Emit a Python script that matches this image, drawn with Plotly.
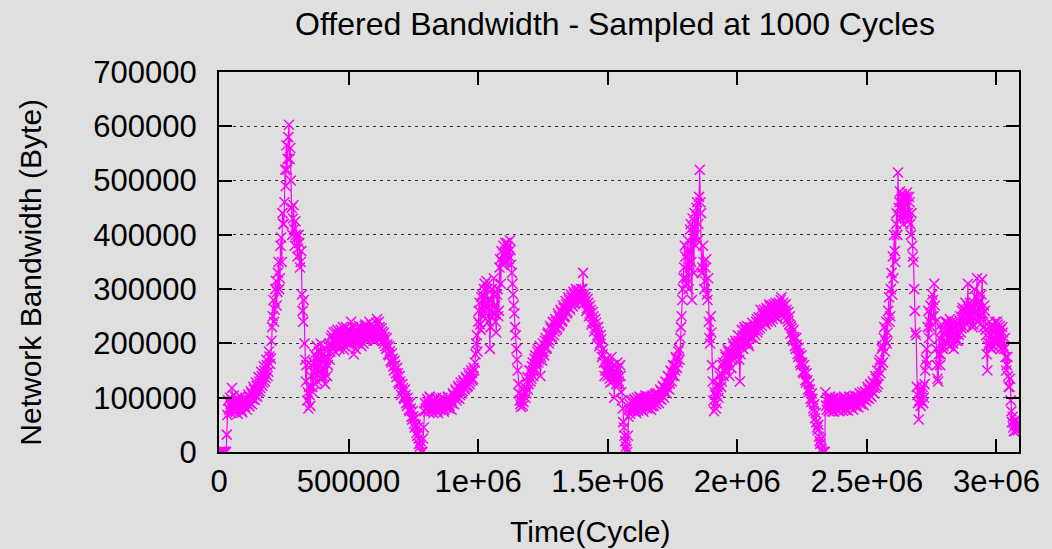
import plotly.graph_objects as go

# Sampling step (cycles) of the values
SAMPLE_STEP = 5000

# Offered bandwidth in kilobytes.
# "a" rows: samples at k*5000 cycles; "b" rows: samples at k*5000 + 2500 cycles.
# One row per 100000 cycles.
a0 = [0, 0, 0, 0, 0, 0, 32, 95, 78, 88, 118, 82, 92, 74, 86, 97, 79, 90, 73, 84]
b0 = [0, 0, 0, 0, 0, 0, 68, 80, 100, 72, 95, 104, 76, 98, 70, 90, 102, 76, 96, 88]
a1 = [84, 96, 88, 102, 90, 108, 97, 115, 104, 122, 110, 130, 118, 140, 128, 150, 136, 160, 148, 176]
b1 = [100, 78, 106, 84, 112, 88, 120, 96, 128, 102, 138, 112, 148, 122, 158, 130, 170, 140, 185, 162]
a2 = [172, 230, 280, 262, 315, 295, 350, 320, 395, 440, 420, 520, 565, 540, 603, 560, 450, 430, 410, 425]
b2 = [205, 250, 240, 300, 270, 330, 300, 380, 350, 420, 460, 490, 520, 580, 540, 500, 400, 455, 380, 400]
a3 = [395, 375, 385, 350, 290, 240, 200, 130, 95, 80, 105, 140, 120, 165, 145, 175, 130, 185, 150, 170]
b3 = [360, 400, 340, 370, 260, 280, 170, 160, 110, 120, 85, 160, 110, 180, 125, 195, 165, 145, 200, 135]
a4 = [140, 190, 125, 175, 160, 200, 185, 215, 195, 208, 222, 200, 215, 190, 225, 205, 212, 195, 230, 210]
b4 = [180, 150, 170, 140, 195, 170, 210, 190, 220, 185, 205, 225, 195, 218, 200, 230, 188, 220, 200, 225]
a5 = [200, 218, 240, 205, 180, 215, 225, 200, 232, 210, 195, 225, 215, 235, 205, 225, 240, 212, 228, 205]
b5 = [225, 200, 215, 230, 205, 190, 210, 228, 205, 230, 220, 200, 232, 210, 228, 212, 220, 235, 210, 232]
a6 = [225, 212, 245, 222, 230, 210, 222, 200, 212, 190, 198, 178, 186, 165, 172, 150, 160, 138, 145, 125]
b6 = [205, 238, 215, 240, 212, 228, 205, 220, 195, 210, 180, 195, 168, 182, 158, 168, 145, 155, 128, 140]
a7 = [130, 112, 118, 98, 105, 85, 92, 75, 80, 60, 66, 45, 50, 30, 25, 10, 0, 0, 45, 90]
b7 = [105, 125, 100, 115, 90, 100, 78, 90, 65, 75, 52, 62, 35, 45, 15, 20, 0, 25, 75, 80]
a8 = [78, 92, 84, 100, 75, 88, 96, 80, 91, 72, 86, 98, 83, 92, 78, 95, 88, 100, 85, 96]
b8 = [98, 74, 102, 80, 95, 72, 82, 100, 76, 94, 78, 86, 100, 74, 96, 82, 102, 80, 98, 78]
a9 = [90, 105, 98, 112, 100, 118, 105, 122, 112, 128, 118, 135, 122, 140, 130, 145, 135, 150, 180, 215]
b9 = [108, 88, 115, 95, 122, 98, 128, 108, 132, 115, 138, 120, 145, 125, 150, 132, 155, 165, 200, 185]
a10 = [240, 275, 225, 290, 260, 310, 270, 300, 240, 190, 280, 250, 320, 270, 220, 300, 260, 355, 370, 345]
b10 = [260, 235, 285, 250, 300, 245, 315, 265, 280, 230, 300, 290, 255, 240, 290, 250, 340, 310, 350, 380]
a11 = [365, 385, 350, 378, 360, 372, 330, 290, 255, 215, 170, 125, 95, 83, 105, 92, 120, 108, 138, 125]
b11 = [350, 370, 385, 355, 390, 345, 310, 270, 230, 190, 150, 108, 88, 95, 85, 112, 100, 130, 115, 150]
a12 = [150, 135, 165, 148, 178, 160, 190, 170, 140, 185, 200, 178, 210, 192, 220, 205, 228, 212, 238, 222]
b12 = [130, 158, 140, 172, 152, 185, 165, 195, 175, 168, 185, 205, 190, 218, 200, 232, 210, 240, 215, 245]
a13 = [240, 228, 250, 235, 258, 242, 265, 250, 272, 258, 280, 262, 285, 268, 290, 275, 295, 278, 292, 280]
b13 = [225, 255, 232, 262, 240, 270, 248, 278, 255, 285, 265, 290, 270, 295, 272, 300, 282, 298, 275, 300]
a14 = [290, 330, 275, 285, 265, 275, 255, 262, 240, 250, 228, 238, 215, 222, 200, 208, 180, 165, 150, 172]
b14 = [300, 285, 292, 260, 282, 250, 270, 235, 258, 222, 245, 210, 230, 195, 215, 175, 190, 140, 170, 150]
a15 = [140, 160, 128, 175, 145, 100, 150, 135, 155, 125, 140, 95, 55, 30, 10, 0, 65, 88, 75, 95]
b15 = [165, 135, 150, 130, 160, 140, 125, 165, 130, 160, 110, 80, 45, 20, 5, 30, 78, 70, 92, 76]
a16 = [80, 96, 72, 90, 84, 100, 78, 92, 86, 104, 80, 95, 88, 102, 84, 98, 90, 108, 94, 105]
b16 = [98, 78, 100, 76, 102, 82, 98, 74, 100, 82, 102, 80, 98, 78, 104, 85, 106, 88, 108, 90]
a17 = [98, 112, 104, 120, 110, 128, 118, 138, 126, 148, 140, 158, 150, 172, 165, 190, 210, 250, 300, 340]
b17 = [115, 96, 122, 100, 130, 108, 140, 115, 150, 130, 160, 140, 175, 155, 185, 170, 230, 280, 320, 380]
a18 = [360, 310, 390, 340, 420, 280, 400, 440, 380, 460, 420, 520, 440, 340, 350, 315, 355, 280, 240, 200]
b18 = [320, 370, 300, 410, 350, 430, 330, 400, 450, 390, 470, 460, 330, 380, 300, 340, 290, 320, 210, 250]
a19 = [220, 130, 75, 105, 90, 125, 110, 145, 130, 165, 150, 175, 160, 185, 140, 180, 170, 195, 178, 200]
b19 = [160, 95, 110, 80, 120, 100, 140, 120, 160, 140, 180, 150, 190, 165, 185, 155, 200, 172, 205, 180]
a20 = [185, 205, 130, 195, 215, 200, 225, 205, 218, 195, 230, 212, 222, 235, 215, 245, 225, 238, 262, 232]
b20 = [215, 170, 180, 225, 190, 230, 200, 232, 200, 225, 210, 238, 210, 225, 240, 220, 248, 228, 245, 255]
a21 = [245, 255, 235, 262, 248, 268, 240, 258, 272, 250, 265, 245, 275, 258, 285, 262, 270, 250, 262, 240]
b21 = [262, 238, 265, 240, 272, 250, 270, 245, 258, 275, 248, 272, 255, 280, 265, 275, 255, 272, 245, 258]
a22 = [235, 218, 228, 205, 212, 190, 198, 175, 182, 160, 165, 145, 150, 128, 132, 110, 115, 92, 98, 75]
b22 = [250, 232, 210, 225, 195, 210, 180, 192, 165, 178, 148, 160, 132, 145, 115, 125, 98, 108, 80, 88]
a23 = [62, 55, 40, 28, 15, 5, 0, 0, 110, 78, 92, 84, 98, 75, 90, 82, 95, 78, 88, 96]
b23 = [72, 45, 50, 20, 25, 0, 0, 0, 85, 100, 75, 102, 80, 98, 74, 100, 80, 96, 75, 84]
a24 = [80, 92, 85, 98, 78, 90, 86, 100, 82, 94, 88, 102, 86, 97, 92, 106, 90, 102, 96, 110]
b24 = [100, 76, 102, 80, 96, 76, 102, 84, 100, 78, 104, 84, 102, 82, 108, 88, 110, 86, 112, 94]
a25 = [100, 115, 105, 122, 112, 128, 118, 135, 150, 140, 170, 160, 195, 210, 185, 240, 220, 285, 250, 330]
b25 = [120, 98, 125, 102, 130, 108, 140, 120, 125, 165, 145, 190, 165, 230, 205, 200, 260, 240, 300, 290]
a26 = [360, 400, 350, 440, 515, 460, 430, 475, 420, 465, 440, 478, 425, 460, 400, 380, 350, 260, 215, 105]
b26 = [320, 370, 420, 400, 450, 480, 450, 435, 470, 430, 470, 440, 470, 420, 440, 360, 300, 220, 120, 90]
a27 = [60, 110, 95, 120, 100, 150, 190, 230, 210, 270, 250, 280, 310, 240, 160, 130, 210, 180, 225, 195]
b27 = [95, 85, 115, 90, 125, 170, 160, 260, 240, 230, 290, 250, 270, 190, 135, 180, 160, 235, 190, 220]
a28 = [215, 240, 200, 230, 245, 210, 235, 190, 222, 205, 235, 215, 250, 228, 265, 240, 275, 235, 310, 250]
b28 = [240, 205, 238, 195, 225, 240, 200, 230, 210, 238, 205, 242, 220, 260, 230, 262, 245, 270, 240, 275]
a29 = [245, 270, 235, 300, 255, 320, 240, 280, 250, 318, 230, 260, 215, 150, 200, 230, 190, 220, 205, 240]
b29 = [265, 230, 275, 245, 285, 250, 275, 235, 290, 255, 270, 225, 180, 195, 240, 200, 235, 195, 230, 205]
a30 = [215, 235, 195, 225, 205, 220, 190, 175, 160, 140, 120, 95, 55, 45, 58, 40, 52, 45]
b30 = [240, 205, 232, 190, 230, 195, 210, 150, 175, 120, 135, 75, 65, 38, 50, 58, 40]

x_tick_vals = [0, 500000, 1000000, 1500000, 2000000, 2500000, 3000000]
x_tick_text = ["0", "500000", "1e+06", "1.5e+06", "2e+06", "2.5e+06", "3e+06"]
y_tick_vals = [0, 100000, 200000, 300000, 400000, 500000, 600000, 700000]
y_tick_text = ["0", "100000", "200000", "300000", "400000", "500000", "600000", "700000"]

a_rows = [a0, a1, a2, a3, a4, a5, a6, a7, a8, a9, a10, a11, a12, a13, a14, a15,
          a16, a17, a18, a19, a20, a21, a22, a23, a24, a25, a26, a27, a28, a29, a30]
b_rows = [b0, b1, b2, b3, b4, b5, b6, b7, b8, b9, b10, b11, b12, b13, b14, b15,
          b16, b17, b18, b19, b20, b21, b22, b23, b24, b25, b26, b27, b28, b29, b30]

a_vals = [v for r in a_rows for v in r]
b_vals = [v for r in b_rows for v in r]
pts = [(i * SAMPLE_STEP, v * 1000) for i, v in enumerate(a_vals)]
pts += [(i * SAMPLE_STEP + SAMPLE_STEP // 2, v * 1000) for i, v in enumerate(b_vals)]
pts.sort()
cycles = [p[0] for p in pts]
bandwidth = [p[1] for p in pts]

BG = "#dfdfdf"
FONT = "Liberation Sans, Arial, Helvetica, sans-serif"
MAG = "#ff00ff"

fig = go.Figure()
fig.add_trace(go.Scatter(
    x=cycles, y=bandwidth, mode="lines+markers",
    line=dict(color=MAG, width=1.2),
    marker=dict(symbol="x-thin", size=10, line=dict(color=MAG, width=1.5), color=MAG),
    showlegend=False, hoverinfo="skip",
))

W, H = 1052, 549
L, R, T, B = 219, 30, 72, 97
pw = W - L - R
ph = H - T - B

fig.update_layout(
    width=W, height=H,
    margin=dict(l=L, r=R, t=T, b=B, pad=0),
    paper_bgcolor=BG, plot_bgcolor=BG,
    font=dict(family=FONT, size=31, color="black"),
    title=dict(text="Offered Bandwidth - Sampled at 1000 Cycles",
               x=615 / W, xanchor="center", xref="container",
               y=1 - 24 / H, yanchor="middle", yref="container",
               font=dict(family=FONT, size=32, color="black")),
    xaxis=dict(range=[0, 3087000], tickvals=x_tick_vals, ticktext=x_tick_text,
               ticks="inside", ticklen=13, tickwidth=2, tickcolor="black",
               showline=True, linewidth=2, linecolor="black", mirror="allticks",
               showgrid=False, zeroline=False, ticklabelstandoff=1,
               tickfont=dict(family=FONT, size=31, color="black")),
    yaxis=dict(range=[0, 700000], tickvals=y_tick_vals, ticktext=y_tick_text,
               ticks="inside", ticklen=13, tickwidth=2, tickcolor="black",
               showline=True, linewidth=2, linecolor="black", mirror="allticks",
               showgrid=True, gridcolor="#333333", gridwidth=1, griddash="3px,4px",
               zeroline=False, ticklabelstandoff=14,
               tickfont=dict(family=FONT, size=31, color="black")),
    annotations=[
        dict(text="Time(Cycle)", xref="paper", yref="paper",
             x=(592 - L) / pw, y=(H - B - 531) / ph, xanchor="center", yanchor="middle",
             showarrow=False, font=dict(family=FONT, size=30, color="black")),
        dict(text="Network Bandwidth (Byte)", xref="paper", yref="paper",
             x=(29 - L) / pw, y=(H - B - 272) / ph, xanchor="center", yanchor="middle",
             textangle=-90, showarrow=False, font=dict(family=FONT, size=30, color="black")),
    ],
)

fig.write_html("out.html", config={"displayModeBar": False},
               post_script="document.body.style.margin='0';document.body.style.overflow='hidden';")
